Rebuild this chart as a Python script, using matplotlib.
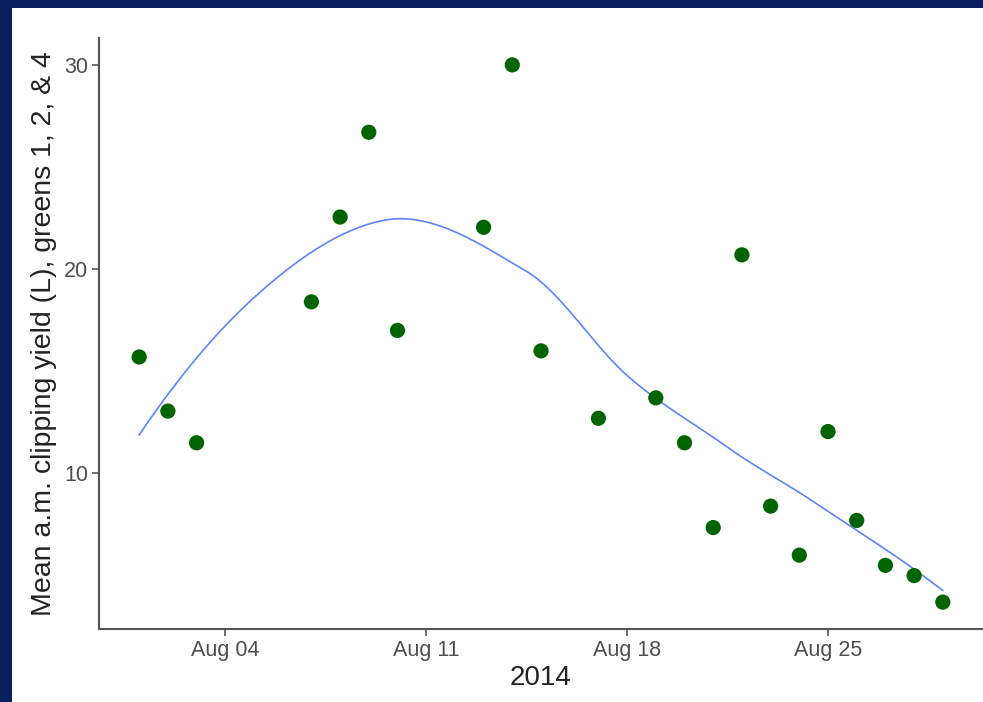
import datetime as dt
import numpy as np
import matplotlib
matplotlib.use("Agg")
import matplotlib.pyplot as plt
import matplotlib.dates as mdates
from matplotlib.patches import Rectangle

plt.rcParams['font.family'] = ['Liberation Sans', 'DejaVu Sans']

# ---- data ----
days = [1, 2, 3, 7, 8, 9, 10, 13, 14, 15, 17, 19, 20, 21, 22, 23, 24, 25, 26, 27, 28, 29]
yield_l = [15.7, 13.05, 11.5, 18.4, 22.55, 26.7, 17.0, 22.05, 30.0, 16.0, 12.7,
           13.7, 11.5, 7.35, 20.7, 8.4, 6.0, 12.05, 7.7, 5.5, 5.0, 3.7]
x_label = "2014"
y_label = "Mean a.m. clipping yield (L), greens 1, 2, & 4"

dates = [dt.datetime(2014, 8, d) for d in days]
xnum = mdates.date2num(dates)
y = np.array(yield_l)


def local_fit(x, y, x0, span=0.75):
    """Local quadratic fit with tricube weights; returns value and slope."""
    n = len(x)
    q = int(np.floor(n * span))
    d = np.abs(x - x0)
    h = np.sort(d)[q - 1]
    w = np.clip(1 - (d / h) ** 3, 0, None) ** 3
    X = np.vstack([np.ones(n), x - x0, (x - x0) ** 2]).T
    Wm = np.diag(w)
    beta = np.linalg.lstsq(X.T @ Wm @ X, X.T @ Wm @ y, rcond=None)[0]
    return beta[0], beta[1]


def loess_interp(x, y, xs, span=0.75, cell=0.2):
    """R-style loess: fits at kd-tree vertices, cubic Hermite in between."""
    xsort = np.sort(x)
    n = len(x)
    fc = int(np.floor(n * span * cell))
    lo, hi = xsort[0], xsort[-1]
    mu = 0.005 * (hi - lo)
    verts = {lo - mu, hi + mu}

    def split(l, u):
        if u - l + 1 <= fc:
            return
        m = (l + u) // 2
        t = (xsort[m] + xsort[m + 1]) / 2
        verts.add(t)
        split(l, m)
        split(m + 1, u)

    split(0, n - 1)
    v = np.array(sorted(verts))
    vals = np.array([local_fit(x, y, vv, span) for vv in v])
    out = []
    for x0 in xs:
        i = np.clip(np.searchsorted(v, x0) - 1, 0, len(v) - 2)
        x1, x2 = v[i], v[i + 1]
        hlen = x2 - x1
        t = (x0 - x1) / hlen
        f1, d1 = vals[i]
        f2, d2 = vals[i + 1]
        h00 = 2 * t**3 - 3 * t**2 + 1
        h10 = t**3 - 2 * t**2 + t
        h01 = -2 * t**3 + 3 * t**2
        h11 = t**3 - t**2
        out.append(h00 * f1 + h10 * hlen * d1 + h01 * f2 + h11 * hlen * d2)
    return np.array(out)


xs = np.linspace(xnum.min(), xnum.max(), 300)
ys = loess_interp(xnum, y, xs)

W, H = 983, 702
fig = plt.figure(figsize=(W / 100, H / 100), dpi=100)
fig.patch.set_facecolor('#0b1f5e')
bg = Rectangle((12 / W, 0), 1 - 12 / W, 1 - 8 / H,
               transform=fig.transFigure, facecolor='white',
               edgecolor='none', zorder=-10)
fig.add_artist(bg)

ax = fig.add_axes([99 / W, (H - 629) / H, (983 - 99) / W, (629 - 38) / H])
ax.set_zorder(1)
ax.set_facecolor('white')

ax.scatter(dates, y, s=120, color='#006400', edgecolors='none', zorder=3)
ax.plot(mdates.num2date(xs), ys, color='#3366FF', lw=1.2, alpha=0.8, zorder=2)

rng = xnum.max() - xnum.min()
ax.set_xlim(xnum.min() - 0.05 * rng, xnum.max() + 0.05 * rng)
yr = y.max() - y.min()
ax.set_ylim(y.min() - 0.05 * yr, y.max() + 0.05 * yr)

ax.xaxis.set_major_locator(mdates.DayLocator(bymonthday=[4, 11, 18, 25]))
ax.xaxis.set_major_formatter(mdates.DateFormatter('%b %d'))
ax.set_yticks([10, 20, 30])

for s in ['top', 'right']:
    ax.spines[s].set_visible(False)
for s in ['left', 'bottom']:
    ax.spines[s].set_color('#555555')
    ax.spines[s].set_linewidth(1.5)

ax.tick_params(axis='both', colors='#555555', labelcolor='#4d4d4d',
               labelsize=15.5, length=5, width=1.2, pad=3)

ax.set_xlabel(x_label, fontsize=20, color='#222222', labelpad=3)
ax.set_ylabel(y_label, fontsize=20.5, color='#222222', labelpad=5)

fig.savefig('out.png', dpi=100, facecolor=fig.get_facecolor())
